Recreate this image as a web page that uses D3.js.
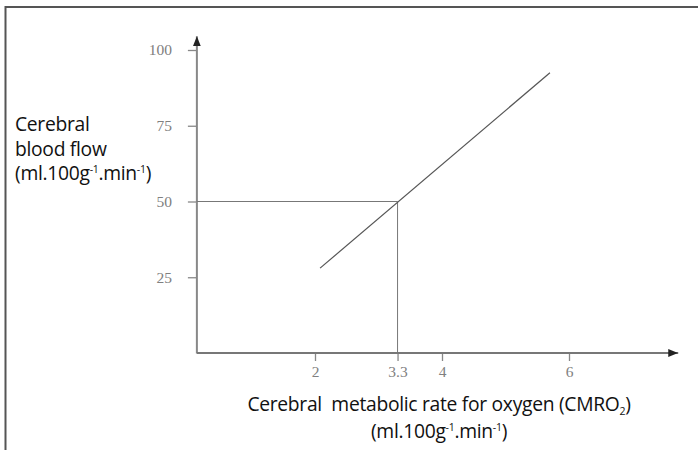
<!doctype html>
<html lang="en">
<head>
<meta charset="utf-8">
<title>Cerebral blood flow vs CMRO2</title>
<style>
 body { margin: 0; background: #fff; }
 .lab { font-family: "Open Sans", "Noto Sans", sans-serif; font-size: 19.3px; fill: #111; letter-spacing: -0.3px; }
 .tick text { font-family: "Liberation Serif", serif; font-size: 15.5px; fill: #808080; }
 .tick line { stroke: #888; stroke-width: 1.3; }
</style>
</head>
<body>
<svg id="chart" width="698" height="450" xmlns="http://www.w3.org/2000/svg"></svg>
<script src="https://d3js.org/d3.v7.min.js"></script>
<script>
 // values
 var xTicks = [2, 3.3, 4, 6];
 var yTicks = [25, 50, 75, 100];
 var xExtent = [0.14, 7.72];   // axis line ends (x in CMRO2 units)
 var yExtent = [0, 104.5];     // axis line ends (flow units)
 var flowLine = [{x: 2.08, y: 28}, {x: 5.7, y: 92.5}];
 var refPoint = {x: 3.3, y: 50};
 var yLabel = ["Cerebral", "blood flow", "(ml.100g|-1|.min|-1|)"];
 var xLabel = ["Cerebral  metabolic rate for oxygen (CMRO_2_)", "(ml.100g|-1|.min|-1|)"];

 var svg = d3.select("#chart");
 var x = d3.scaleLinear().domain([0, 6]).range([188, 569]);
 var y = d3.scaleLinear().domain([0, 100]).range([353, 50]);

 // frame (top and left only)
 svg.append("path")
    .attr("d", "M5.5,450V7H698")
    .attr("fill", "none").attr("stroke", "#555").attr("stroke-width", 2);

 var defs = svg.append("defs");
 defs.append("marker")
     .attr("id", "arrow").attr("viewBox", "0 0 10 8")
     .attr("refX", 10).attr("refY", 4)
     .attr("markerWidth", 10).attr("markerHeight", 8)
     .attr("markerUnits", "userSpaceOnUse")
     .attr("orient", "auto")
   .append("path").attr("d", "M0,0L10,4L0,8Z").attr("fill", "#222");

 // axes with d3 ticks
 var gy = svg.append("g")
     .attr("transform", "translate(" + x(xExtent[0]) + ",0)")
     .call(d3.axisLeft(y).tickValues(yTicks).tickSize(9).tickPadding(16));
 gy.select(".domain").remove();

 var gx = svg.append("g")
     .attr("transform", "translate(0," + y(yExtent[0]) + ")")
     .call(d3.axisBottom(x).tickValues(xTicks).tickSize(8).tickPadding(5)
           .tickFormat(function(d) { return d; }));
 gx.select(".domain").remove();

 // axis lines with arrowheads
 svg.append("line")
    .attr("x1", x(xExtent[0])).attr("y1", y(yExtent[0]) + 0.5)
    .attr("x2", x(xExtent[0])).attr("y2", y(yExtent[1]))
    .attr("stroke", "#888").attr("stroke-width", 2)
    .attr("marker-end", "url(#arrow)");
 svg.append("line")
    .attr("x1", x(xExtent[0])).attr("y1", y(yExtent[0]))
    .attr("x2", x(xExtent[1])).attr("y2", y(yExtent[0]))
    .attr("stroke", "#777").attr("stroke-width", 2)
    .attr("marker-end", "url(#arrow)");

 // reference lines at (3.3, 50)
 svg.append("path")
    .attr("d", "M" + x(xExtent[0]) + "," + y(refPoint.y) +
               "H" + x(refPoint.x) + "V" + y(yExtent[0]))
    .attr("fill", "none").attr("stroke", "#777").attr("stroke-width", 1);

 // the flow line
 svg.append("path")
    .datum(flowLine)
    .attr("d", d3.line().x(function(d) { return x(d.x); }).y(function(d) { return y(d.y); }))
    .attr("fill", "none").attr("stroke", "#555").attr("stroke-width", 1.2);

 // text with super/subscripts: |..| = superscript, _.._ = subscript
 function richText(sel, str) {
   var parts = str.split(/(\|[^|]*\||_[^_]*_)/);
   var shift = 0;
   parts.forEach(function(p) {
     if (!p) return;
     var t = sel.append("tspan");
     if (p[0] == "|") {
       t.text(p.slice(1, -1)).attr("font-size", "10.5px").attr("dy", -7 - shift);
       shift = -7;
     } else if (p[0] == "_") {
       t.text(p.slice(1, -1)).attr("font-size", "10.5px").attr("dy", 4 - shift);
       shift = 4;
     } else {
       t.text(p).attr("dy", -shift);
       shift = 0;
     }
   });
 }

 var yl = svg.append("g");
 yLabel.forEach(function(s, i) {
   var t = yl.append("text").attr("class", "lab")
       .attr("x", 15).attr("y", 131 + i * 24.5)
       .style("white-space", "pre");
   richText(t, s);
 });

 xLabel.forEach(function(s, i) {
   var t = svg.append("text").attr("class", "lab")
       .attr("x", 439).attr("y", 411 + i * 27)
       .attr("text-anchor", "middle")
       .style("white-space", "pre");
   richText(t, s);
 });
</script>
</body>
</html>
